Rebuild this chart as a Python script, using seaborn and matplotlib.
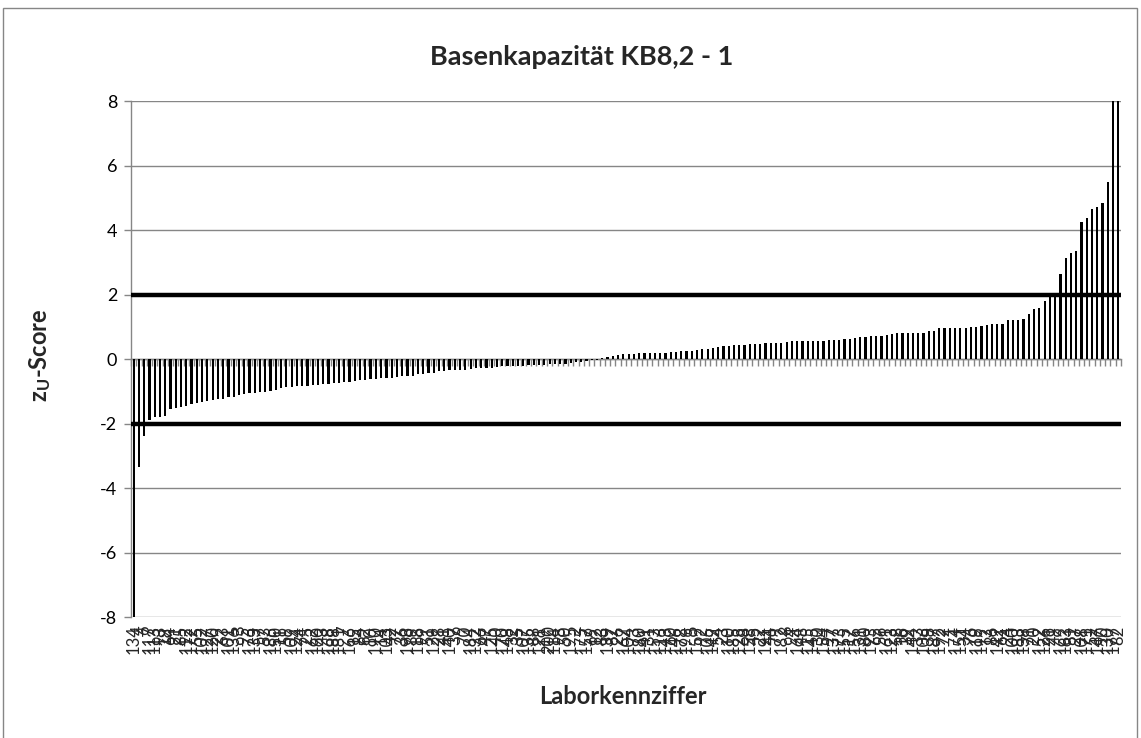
import numpy as np
import pandas as pd
import matplotlib
matplotlib.use("Agg")
import matplotlib.pyplot as plt
import seaborn as sns
from matplotlib.patches import Rectangle

lab_codes = [
    134, 4, 6, 117, 113, 93, 18, 64, 21, 85,
    112, 172, 55, 102, 127, 120, 29, 63, 101, 136,
    3, 95, 176, 133, 57, 53, 186, 150, 11, 59,
    109, 124, 74, 25, 162, 160, 43, 168, 188, 181,
    7, 166, 15, 84, 62, 10, 190, 14, 103, 42,
    77, 36, 198, 89, 118, 99, 51, 129, 28, 41,
    140, 37, 9, 70, 184, 132, 66, 47, 125, 40,
    170, 148, 32, 35, 107, 135, 88, 121, 19, 200,
    114, 98, 50, 195, 2, 175, 157, 69, 12, 83,
    139, 87, 26, 167, 104, 73, 180, 141, 31, 153,
    116, 143, 60, 146, 178, 196, 5, 159, 92, 105,
    149, 54, 23, 110, 185, 128, 68, 158, 45, 22,
    191, 44, 79, 182, 8, 94, 164, 48, 115, 145,
    30, 154, 97, 137, 173, 155, 17, 156, 131, 80,
    193, 65, 56, 161, 123, 58, 16, 39, 144, 33,
    106, 38, 187, 192, 72, 1, 174, 151, 34, 76,
    119, 199, 13, 86, 142, 61, 24, 100, 183, 138,
    71, 20, 152, 126, 91, 49, 169, 163, 81, 27,
    108, 171, 52, 147, 90, 130, 177, 82,
]

z_scores = [
    -8.6, -3.35, -2.4, -1.88, -1.81, -1.79, -1.77, -1.56, -1.53, -1.50,
    -1.46, -1.40, -1.35, -1.33, -1.30, -1.28, -1.25, -1.23, -1.19, -1.17,
    -1.11, -1.08, -1.06, -1.04, -1.02, -1.01, -0.99, -0.96, -0.91, -0.88,
    -0.86, -0.85, -0.84, -0.83, -0.82, -0.80, -0.78, -0.76, -0.75, -0.73,
    -0.71, -0.70, -0.68, -0.66, -0.65, -0.63, -0.61, -0.60, -0.59, -0.58,
    -0.55, -0.54, -0.53, -0.52, -0.46, -0.45, -0.44, -0.43, -0.37, -0.36,
    -0.35, -0.35, -0.34, -0.33, -0.30, -0.29, -0.28, -0.28, -0.27, -0.24,
    -0.23, -0.23, -0.22, -0.22, -0.21, -0.19, -0.19, -0.18, -0.18, -0.17,
    -0.15, -0.15, -0.14, -0.12, -0.10, -0.08, -0.06, -0.04, -0.02, 0.03,
    0.06, 0.10, 0.13, 0.15, 0.16, 0.17, 0.18, 0.18, 0.18, 0.18,
    0.19, 0.19, 0.22, 0.23, 0.24, 0.24, 0.26, 0.27, 0.30, 0.31,
    0.34, 0.36, 0.40, 0.41, 0.44, 0.44, 0.44, 0.46, 0.47, 0.47,
    0.49, 0.49, 0.50, 0.51, 0.53, 0.55, 0.56, 0.56, 0.56, 0.57,
    0.57, 0.57, 0.58, 0.60, 0.60, 0.62, 0.63, 0.65, 0.67, 0.68,
    0.70, 0.70, 0.72, 0.75, 0.78, 0.80, 0.82, 0.82, 0.82, 0.82,
    0.82, 0.88, 0.88, 0.95, 0.95, 0.95, 0.95, 0.95, 0.95, 0.98,
    1.00, 1.03, 1.05, 1.07, 1.07, 1.07, 1.20, 1.20, 1.22, 1.24,
    1.41, 1.54, 1.58, 1.80, 1.93, 1.97, 2.65, 3.14, 3.30, 3.34,
    4.26, 4.38, 4.65, 4.71, 4.85, 5.50, 8.9, 9.4,
]

limit_values = [-2, 2]
y_ticks = [-8, -6, -4, -2, 0, 2, 4, 6, 8]

title_text = "Basenkapazität KB8,2 - 1"
x_label = "Laborkennziffer"
y_label = r"$\mathbf{z_{U}}$-Score"

sns.set_theme(style="white")
plt.rcParams["font.family"] = ["Lato", "DejaVu Sans"]
plt.rcParams["mathtext.fontset"] = "custom"
plt.rcParams["mathtext.rm"] = "Lato"
plt.rcParams["mathtext.bf"] = "Lato:bold"
plt.rcParams["mathtext.it"] = "Lato:italic"

GRAY = "#868686"
W, H = 1141, 738

fig = plt.figure(figsize=(W / 100, H / 100), dpi=100)
fig.patch.set_facecolor("white")
ax = fig.add_axes([131 / W, 1 - 617 / H, 990 / W, 516 / H])

n = len(z_scores)
df = pd.DataFrame({"pos": np.arange(n), "z": z_scores})
sns.barplot(data=df, x="pos", y="z", color="black", width=0.42, saturation=1,
            linewidth=0, ax=ax, zorder=3, errorbar=None)

ax.set_xlim(-0.5, n - 0.5)
ax.set_ylim(-8, 8)
ax.set_yticks(y_ticks)
ax.set_yticklabels([str(t) for t in y_ticks])
ax.grid(axis="y", color=GRAY, lw=1)
ax.grid(axis="x", visible=False)
ax.set_axisbelow(True)

for s in ["top", "right", "bottom"]:
    ax.spines[s].set_visible(False)
ax.spines["left"].set_color(GRAY)
ax.spines["left"].set_linewidth(1)

ax.tick_params(axis="y", which="major", left=True, direction="out", length=5,
               width=1, color=GRAY, labelsize=13, pad=5, labelcolor="black")
ax.set_xticks(np.arange(n))
ax.set_xticklabels([str(c) for c in lab_codes], rotation=90, fontsize=12)
ax.tick_params(axis="x", which="major", bottom=False, length=0, pad=6)

ax.set_xlabel("")
ax.set_ylabel("")

# category axis line with boundary tick marks at z = 0
sec = ax.secondary_xaxis(0.5)
sec.set_alignment("bottom")
sec.set_xticks(np.arange(n + 1) - 0.5)
sec.tick_params(axis="x", which="major", direction="out", length=5, width=1,
                color=GRAY, labelbottom=False, labeltop=False)
sec.spines["bottom"].set_color(GRAY)
sec.spines["bottom"].set_linewidth(1)

for lv in limit_values:
    ax.axhline(lv, color="black", lw=3.2, solid_capstyle="round", zorder=4)

fig.text(582 / W, 1 - 57 / H, title_text, ha="center", va="center",
         fontsize=19.5, fontweight="bold")
fig.text(40 / W, 1 - 355 / H, y_label, ha="center", va="center",
         rotation=90, fontsize=17, fontweight="bold")
fig.text(623 / W, 1 - 697 / H, x_label, ha="center", va="center",
         fontsize=17, fontweight="bold")

fig.patches.append(Rectangle((3 / W, -0.02), (1137 - 3) / W, (H - 8) / H + 0.02,
                             transform=fig.transFigure, fill=False,
                             edgecolor=GRAY, lw=1))

fig.savefig("out.png", dpi=100)
